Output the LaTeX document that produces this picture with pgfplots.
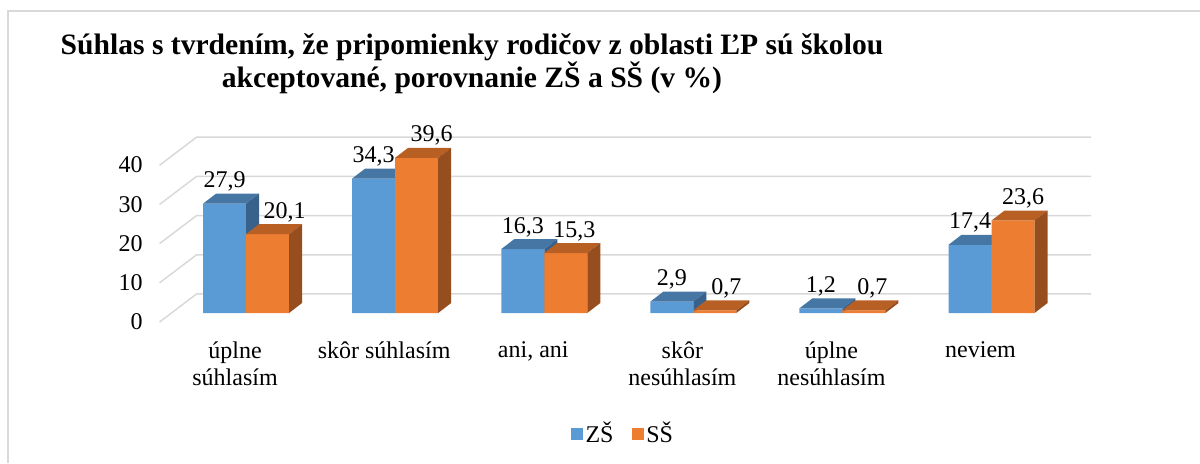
\documentclass[border=0pt]{standalone}
\usepackage{pgfplots}
\usepackage{pgfplotstable}
\pgfplotsset{compat=1.18}
\usepackage{fontspec}
\setmainfont{Liberation Serif}
\definecolor{zsblue}{RGB}{91,155,213}
\definecolor{zstop}{RGB}{70,118,163}
\definecolor{zsside}{RGB}{56,98,140}
\definecolor{ssorange}{RGB}{237,125,49}
\definecolor{sstop}{RGB}{184,95,36}
\definecolor{ssside}{RGB}{150,78,30}
\definecolor{gridc}{RGB}{217,217,217}

\pgfplotstableread{
x zs ss sh
0 27.9 20.1 8.5
1 34.3 39.6 7.5
2 16.3 15.3 4.25
3 2.9 0.7 5.75
4 1.2 0.7 4.25
5 17.4 23.6 5
}\datatable

\begin{document}
\begin{tikzpicture}
\useasboundingbox (0,0) rectangle (600pt,231.5pt);
\draw[gridc, line width=0.75pt] (4pt,0pt) -- (4pt,226pt) -- (600pt,226pt);
\node[anchor=base, font=\fontsize{14.8}{16}\selectfont\bfseries, inner sep=0pt] at (236pt,204.5pt) {Súhlas s tvrdením, že pripomienky rodičov z oblasti ĽP sú školou};
\node[anchor=base, font=\fontsize{14.8}{16}\selectfont\bfseries, inner sep=0pt] at (236pt,188pt) {akceptované, porovnanie ZŠ a SŠ (v \%)};
\begin{axis}[
  at={(85.75pt,75pt)}, anchor=south west,
  x=74.55pt, y=1.96pt,
  xmin=-0.5, xmax=5.5, ymin=0, ymax=45,
  clip=false,
  axis line style={draw=none},
  major tick length=0pt,
  tick style={draw=none},
  ytick={0,10,20,30,40},
  xtick={0,1,2,3,4,5},
  xticklabels={{úplne\\súhlasím},{skôr súhlasím},{ani, ani},{skôr\\nesúhlasím},{úplne\\nesúhlasím},{neviem}},
  xticklabel style={align=center, font=\fontsize{12}{13.5}\selectfont, anchor=north, inner sep=0pt, yshift=-14.3pt, xshift=-5.5pt},
  yticklabel style={font=\fontsize{12}{14}\selectfont, anchor=east, inner sep=0pt, xshift=-14.25pt, yshift=-4.4pt},
  /pgf/number format/assume math mode=true,
  /pgf/number format/use comma,
  /pgf/number format/fixed,
  /pgf/number format/precision=1,
  legend style={at={(0.505,-0.686)}, anchor=center, draw=none, fill=none,
    font=\fontsize{12}{14}\selectfont, legend columns=2,
    /tikz/every even column/.append style={column sep=8pt},
    nodes={inner sep=1.2pt}},
]
% grid lines (back wall + left floor diagonals)
\pgfplotsinvokeforeach{0,10,20,30,40}{
  \pgfmathsetmacro\ya{#1-2.3}
  \pgfmathsetmacro\yb{#1+4.85}
  \edef\tmp{\noexpand\addplot[forget plot, gridc, line width=0.75pt, mark=none] coordinates {(-0.58,\ya) (-0.332,\yb) (5.668,\yb)};}
  \tmp
}
% ZS fronts
\addplot[ybar, bar width=21.5pt, bar shift=-10.75pt, fill=zsblue, draw=none,
  legend image code/.code={\fill[zsblue] (0pt,-3pt) rectangle (6pt,3pt);}]
  table[x=x,y=zs]{\datatable};
\addlegendentry{ZŠ}
% ZS top and side faces
\pgfplotsinvokeforeach{0,...,5}{
  \pgfplotstablegetelem{#1}{zs}\of\datatable
  \pgfmathsetmacro\vv{\pgfplotsretval}
  \pgfmathsetmacro\vt{\vv+2.55}
  \pgfmathsetmacro\xa{#1-0.2884}
  \pgfmathsetmacro\xb{#1}
  \pgfmathsetmacro\xc{#1+0.0872}
  \pgfmathsetmacro\xd{#1-0.2884+0.0872}
  \edef\tmp{\noexpand\addplot[forget plot, fill=zstop, draw=none, mark=none] coordinates {(\xa,\vv) (\xb,\vv) (\xc,\vt) (\xd,\vt)};
    \noexpand\addplot[forget plot, fill=zsside, draw=none, mark=none] coordinates {(\xb,0) (\xb,\vv) (\xc,\vt) (\xc,2.55)};}
  \tmp
}
% SS fronts
\addplot[ybar, bar width=21.5pt, bar shift=10.75pt, fill=ssorange, draw=none,
  legend image code/.code={\fill[ssorange] (0pt,-3pt) rectangle (6pt,3pt);}]
  table[x=x,y=ss]{\datatable};
\addlegendentry{SŠ}
\pgfplotsinvokeforeach{0,...,5}{
  \pgfplotstablegetelem{#1}{ss}\of\datatable
  \pgfmathsetmacro\vv{\pgfplotsretval}
  \pgfmathsetmacro\vt{\vv+2.55}
  \pgfmathsetmacro\xa{#1}
  \pgfmathsetmacro\xb{#1+0.2884}
  \pgfmathsetmacro\xc{#1+0.2884+0.0872}
  \pgfmathsetmacro\xd{#1+0.0872}
  \edef\tmp{\noexpand\addplot[forget plot, fill=sstop, draw=none, mark=none] coordinates {(\xa,\vv) (\xb,\vv) (\xc,\vt) (\xd,\vt)};
    \noexpand\addplot[forget plot, fill=ssside, draw=none, mark=none] coordinates {(\xb,0) (\xb,\vv) (\xc,\vt) (\xc,2.55)};}
  \tmp
}
% data labels
\addplot[forget plot, only marks, mark=none,
  nodes near coords,
  nodes near coords style={anchor=base, yshift=8pt, xshift=-10.75pt, inner sep=0pt, font=\fontsize{12}{14}\selectfont, text=black}]
  table[x=x,y=zs]{\datatable};
\pgfplotsinvokeforeach{0,...,5}{
  \pgfplotstablegetelem{#1}{ss}\of\datatable
  \let\vv=\pgfplotsretval
  \pgfplotstablegetelem{#1}{sh}\of\datatable
  \pgfmathsetmacro\shv{10.75+\pgfplotsretval}
  \edef\tmp{\noexpand\addplot[forget plot, only marks, mark=none,
    nodes near coords,
    nodes near coords style={anchor=base, yshift=8pt, xshift=\shv pt, inner sep=0pt, font=\noexpand\fontsize{12}{14}\noexpand\selectfont, text=black}]
    coordinates {(#1,\vv)};}
  \tmp
}
\end{axis}
\end{tikzpicture}
\end{document}
